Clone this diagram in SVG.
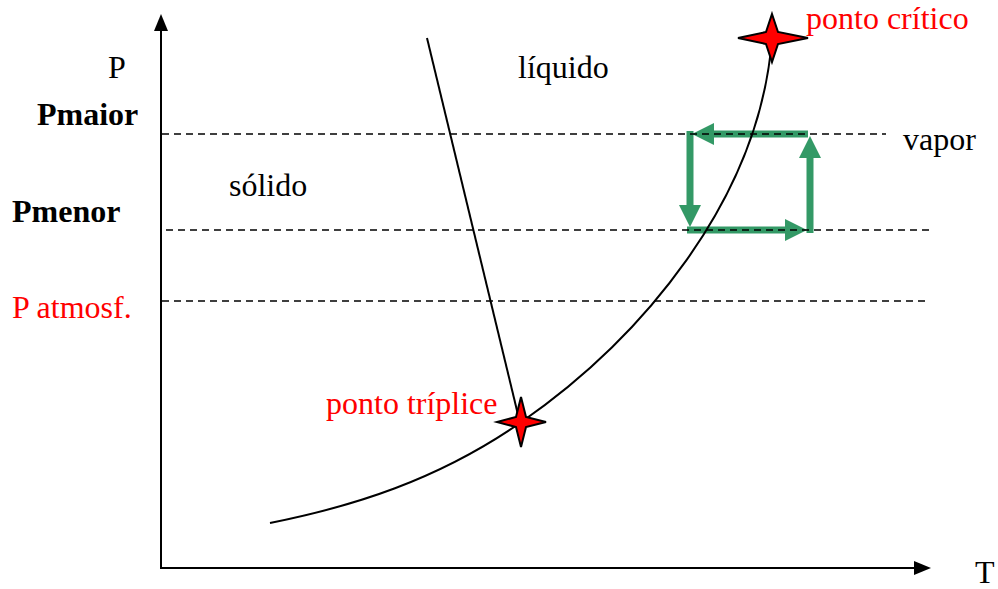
<svg xmlns="http://www.w3.org/2000/svg" width="998" height="589" viewBox="0 0 998 589">
<style>
text{font-family:"Liberation Serif","Times New Roman",serif;font-size:32px;fill:#000}
.red{fill:#ff0000}
.b{font-weight:bold}
.axis{stroke:#000;stroke-width:2;fill:none}
.dash{stroke:#000;stroke-width:1.5;stroke-dasharray:7 5;fill:none}
.curve{stroke:#000;stroke-width:2;fill:none}
.g{stroke:#339966;stroke-width:7;fill:none;marker-end:url(#ga)}
.star{fill:#ff0000;stroke:#000;stroke-width:2;stroke-linejoin:miter}
</style>
<defs>
<marker id="ga" markerUnits="userSpaceOnUse" markerWidth="24" markerHeight="24" viewBox="0 0 24 24" refX="2" refY="12" orient="auto">
<path d="M0,1 L22,12 L0,23 z" fill="#339966"/>
</marker>
</defs>
<g id="axes">
<line class="axis" x1="161" y1="568" x2="161" y2="28"/>
<polygon points="161,14 154,31 168,31" fill="#000"/>
<line class="axis" x1="160" y1="568" x2="916" y2="568"/>
<polygon points="931,568 914,561 914,575" fill="#000"/>
</g>
<g id="cycle">
<line class="g" x1="808" y1="134" x2="712" y2="134"/>
<line class="g" x1="810" y1="233" x2="810" y2="156"/>
<line class="g" x1="690" y1="131" x2="690" y2="207"/>
<line class="g" x1="687" y1="230" x2="787" y2="230"/>
</g>
<g id="connectors">
<line class="dash" x1="162" y1="134" x2="886" y2="134"/>
<line class="dash" x1="166" y1="230" x2="932" y2="230"/>
<line class="dash" x1="162" y1="301" x2="926" y2="301"/>
<line class="curve" x1="427" y1="38" x2="520" y2="423"/>
<path class="curve" d="M270,523 C353,506.4 437,480.3 520,423 C640,340 760,200 772,38"/>
</g>
<g id="ponto-critico">
<polygon class="star" points="772,14 778,32 808,38 778,44 772,62 766,44 738,38 766,32"/>
<text class="red" x="806" y="29">ponto crítico</text>
</g>
<g id="ponto-triplice">
<polygon class="star" points="521,397 526,417 546,422 526,427 521,447 516,427 497,422 516,417"/>
<text class="red" x="326" y="414">ponto tríplice</text>
</g>
<g id="labels">
<text x="108" y="78">P</text>
<text x="518" y="78">líquido</text>
<text class="b" x="37" y="125">Pmaior</text>
<text x="903" y="150">vapor</text>
<text x="229" y="196">sólido</text>
<text class="b" x="12" y="222">Pmenor</text>
<text class="red" x="12" y="318">P atmosf.</text>
<text x="975" y="583">T</text>
</g>
</svg>
